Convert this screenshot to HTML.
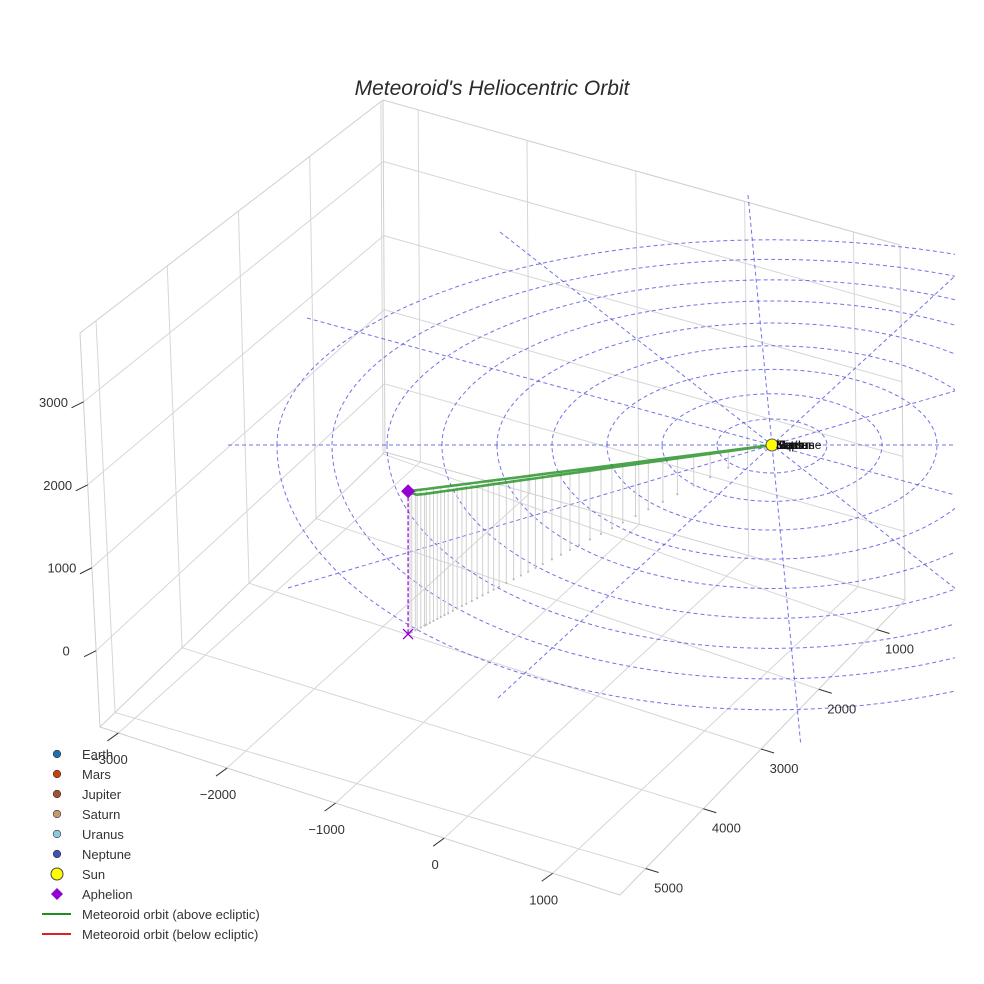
<!DOCTYPE html>
<html><head><meta charset="utf-8"><style>
html,body{margin:0;padding:0;background:#fff;}
svg{display:block;font-family:"Liberation Sans",sans-serif;}
</style></head><body>
<svg id="chart" width="984" height="984" viewBox="0 0 984 984">
<defs><clipPath id="sceneClip"><rect x="0" y="0" width="955" height="984"/></clipPath></defs>
<rect width="984" height="984" fill="#fff"/>
<text x="492" y="95" text-anchor="middle" font-size="21" font-style="italic" fill="#2a2a2a">Meteoroid's Heliocentric Orbit</text>
<g id="grid"></g>
<g id="ecliptic" clip-path="url(#sceneClip)"></g>
<g id="drops"></g>
<g id="orbit"></g>
<g id="markers"></g>
<g id="axes"></g>
<g id="legend"></g>
</svg>
<script>
// ---- data ----
const xTicks = [-3000, -2000, -1000, 0, 1000];
const yTicks = [1000, 2000, 3000, 4000, 5000];
const zTicks = [0, 1000, 2000, 3000];
const orbitX = [0, -27, -233, -356, -466, -562, -644, -727, -795, -864, -919, -973, -1028, -1069, -1111, -1152, -1186, -1220, -1248, -1275, -1302, -1323, -1344, -1357, -1371,
  -1364, -1337, -1309, -1289, -1261, -1234, -1202, -1168, -1131, -1090, -1049, -1001, -946, -891, -829, -761, -686, -603, -514, -411, -295, -165, -27, 0];
const orbitY = [0, 80, 681, 1042, 1362, 1643, 1883, 2124, 2324, 2524, 2685, 2845, 3005, 3125, 3246, 3366, 3466, 3566, 3646, 3727, 3807, 3867, 3927, 3967, 4007,
  3987, 3907, 3827, 3767, 3686, 3606, 3514, 3414, 3306, 3186, 3065, 2925, 2765, 2605, 2424, 2224, 2004, 1763, 1503, 1202, 862, 481, 80, 0];
const orbitZ = [0, 34, 292, 447, 585, 705, 808, 912, 998, 1084, 1152, 1221, 1290, 1342, 1393, 1445, 1488, 1531, 1565, 1600, 1634, 1660, 1686, 1703, 1720,
  1691, 1622, 1586, 1561, 1527, 1494, 1455, 1414, 1369, 1319, 1270, 1212, 1146, 1079, 1005, 922, 830, 731, 623, 498, 357, 199, 33, 0];
const aphelion = [-1371, 4007, 1720];
const sunPos = [0, 0, 0];
const planetNames = ["Earth", "Mars", "Jupiter", "Saturn", "Uranus", "Neptune"];
const planetColors = ["#1f6fb4", "#c9400e", "#a0522d", "#c49a6c", "#8ec9dc", "#3f51b5"];
const ringCount = 9;

// ---- projections ----
const NS = "http://www.w3.org/2000/svg";
const xminF = -3170, xrangeF = 4790, xminB = -3323, xrangeB = 4751;
const ymaxL = 5225, yrangeL = 4255, ymaxR = 5444, yrangeR = 4938;
const zmin = -920, zmax = 3830;
const C = {L:[100,727], F:[620,895], B:[385,452], R:[905,600], Lt:[80,333], Ft:[615,470], Bt:[383,100], Rt:[900,245]};
function lerp(a, b, t) { return [a[0] + (b[0] - a[0]) * t, a[1] + (b[1] - a[1]) * t]; }
function mix(a, b, t) { return a + (b - a) * t; }
function U(x, v) { return mix((x - xminF) / xrangeF, (x - xminB) / xrangeB, v); }
function V(y, u) { return mix((ymaxL - y) / yrangeL, (ymaxR - y) / yrangeR, u); }
function W(z) { return (z - zmin) / (zmax - zmin); }
function box(u, v, w) {
  const bot = lerp(lerp(C.L, C.F, u), lerp(C.B, C.R, u), v);
  const top = lerp(lerp(C.Lt, C.Ft, u), lerp(C.Bt, C.Rt, u), v);
  return lerp(bot, top, w);
}
const SX = 772, SY = 445;
function P(x, y, z) { return [SX + 0.112 * x - 0.0525 * y, SY + 0.036 * x + 0.0595 * y - 0.083 * z]; }

function mk(tag, attrs, parent) {
  const e = document.createElementNS(NS, tag);
  for (const k in attrs) e.setAttribute(k, attrs[k]);
  parent.appendChild(e);
  return e;
}
function line(p, q, stroke, w, parent, extra) {
  const e = mk("line", {x1:p[0], y1:p[1], x2:q[0], y2:q[1], stroke:stroke, "stroke-width":w}, parent);
  if (extra) for (const k in extra) e.setAttribute(k, extra[k]);
  return e;
}

// ---- scene grid ----
const grid = document.getElementById("grid");
const gc = "#d6d6d6";
xTicks.forEach(x => {
  let e = line(box(U(x, 0), 0, 0), box(U(x, 1), 1, 0), gc, 1, grid);
  
  
  e = line(box(U(x, 1), 1, 0), box(U(x, 1), 1, 1), gc, 1, grid);
  
  
});
yTicks.forEach(y => {
  let e = line(box(0, V(y, 0), 0), box(1, V(y, 1), 0), gc, 1, grid);
  
  
  e = line(box(0, V(y, 0), 0), box(0, V(y, 0), 1), gc, 1, grid);
  
  
});
zTicks.forEach(z => {
  let e = line(box(0, 0, W(z)), box(0, 1, W(z)), gc, 1, grid);
  
  
  e = line(box(0, 1, W(z)), box(1, 1, W(z)), gc, 1, grid);
  
  
});
[[C.L,C.F],[C.F,C.R],[C.L,C.B],[C.B,C.R],[C.L,C.Lt],[C.B,C.Bt],[C.R,C.Rt],[C.Lt,C.Bt],[C.Bt,C.Rt]].forEach(s => {
  const e = line(s[0], s[1], "#cfcfcf", 1, grid);
  
  
});

// ---- axis ticks/labels ----
const axes = document.getElementById("axes");
function label(p, txt, name) {
  const t = mk("text", {x:p[0], y:p[1], "text-anchor":"middle", "font-size":"13", fill:"#333"}, axes);
  t.textContent = txt;
  
  
}
const fmt = v => v < 0 ? "\u2212" + Math.abs(v) : String(v);
xTicks.forEach(x => {
  const p = box(U(x, 0), 0, 0);
  const e = line(p, [p[0] - 11, p[1] + 8], "#333", 1, axes);
  
  
  label([p[0] - 9, p[1] + 31], fmt(x), 'x-tick-label');
});
yTicks.forEach(y => {
  const p = box(1, V(y, 1), 0);
  const e = line(p, [p[0] + 13, p[1] + 4], "#333", 1, axes);
  
  
  label([p[0] + 23, p[1] + 24], fmt(y), 'y-tick-label');
});
zTicks.forEach(z => {
  const p = box(0, 0, W(z));
  const e = line(p, [p[0] - 12, p[1] + 6], "#333", 1, axes);
  
  
  label([p[0] - 30, p[1] + 5], fmt(z), 'z-tick-label');
});

// ---- ecliptic grid (rings & radials) ----
const ecl = document.getElementById("ecliptic");
const S = P(sunPos[0], sunPos[1], sunPos[2]);
const dash = {"stroke-dasharray":"4,3", fill:"none", opacity:"0.75"};
for (let k = 1; k <= ringCount; k++) {
  const rx = 55 * k, rt = k * (26.4 - 0.4 * k), rb = k * (27.8 + 0.18 * k);
  const d = `M${S[0]-rx},${S[1]} A${rx},${rt} 0 0 1 ${S[0]+rx},${S[1]} A${rx},${rb} 0 0 1 ${S[0]-rx},${S[1]}`;
  const e = mk("path", {d:d, stroke:"#4444dd", "stroke-width":1}, ecl);
  for (const a in dash) e.setAttribute(a, dash[a]);
  
  
}
[[-544,0],[-24,-250],[-272,-213],[-465,-127],[-484,143],[-274,253]].forEach(dv => {
  const f = (dv[1] < -200 && dv[0] > -100) ? 1.2 : 2;
  const e = line([S[0]+dv[0], S[1]+dv[1]], [S[0]-dv[0]*f, S[1]-dv[1]*f], "#4444dd", 1, ecl, dash);
  
  
});

// ---- drop lines ----
const drops = document.getElementById("drops");
for (let i = 2; i < orbitX.length - 1; i++) {
  if (i === 24) continue;
  const top = P(orbitX[i], orbitY[i], orbitZ[i]);
  const bot = P(orbitX[i], orbitY[i], 0);
  const e = line(top, bot, "#d0d0d0", 1, drops);
  
  
  const c = mk("circle", {cx:bot[0], cy:bot[1], r:1.1, fill:"#bbb"}, drops);
  
  
}

// ---- orbit ----
const orbit = document.getElementById("orbit");
const pts = orbitX.map((x, i) => P(x, orbitY[i], orbitZ[i]).join(",")).join(" ");
const ol = mk("polyline", {points:pts, fill:"none", stroke:"#1f8f1f", "stroke-width":2.6, opacity:"0.8", "stroke-linejoin":"round"}, orbit);



// ---- markers ----
const mkG = document.getElementById("markers");
const A = P(aphelion[0], aphelion[1], aphelion[2]);
const A0 = P(aphelion[0], aphelion[1], 0);
const al = line(A, A0, "#9400d3", 1.2, mkG, {"stroke-dasharray":"4,2"});


const ax = mk("path", {d:`M${A0[0]-5},${A0[1]-5}L${A0[0]+5},${A0[1]+5}M${A0[0]+5},${A0[1]-5}L${A0[0]-5},${A0[1]+5}`, stroke:"#9400d3", "stroke-width":1.3}, mkG);


const ad = mk("path", {d:`M${A[0]},${A[1]-7}L${A[0]+7},${A[1]}L${A[0]},${A[1]+7}L${A[0]-7},${A[1]}Z`, fill:"#9400d3"}, mkG);


const sun = mk("circle", {cx:S[0], cy:S[1], r:6, fill:"#ffff00", stroke:"#555", "stroke-width":1}, mkG);


planetNames.forEach((n, i) => {
  const t = mk("text", {x:S[0] + 4, y:S[1] + 4, "font-size":"12", fill:"#111"}, mkG);
  t.textContent = n;
  
  
});

// ---- legend ----
const lg = document.getElementById("legend");
const entries = [["Earth","dot",planetColors[0]],["Mars","dot",planetColors[1]],["Jupiter","dot",planetColors[2]],
  ["Saturn","dot",planetColors[3]],["Uranus","dot",planetColors[4]],["Neptune","dot",planetColors[5]],
  ["Sun","sun","#ffff00"],["Aphelion","diamond","#9400d3"],
  ["Meteoroid orbit (above ecliptic)","line","#1f8f1f"],["Meteoroid orbit (below ecliptic)","line","#e02020"]];
entries.forEach((en, i) => {
  const y = 754 + i * 20;
  const g = mk("g", {}, lg);
  
  
  if (en[1] === "dot") mk("circle", {cx:57, cy:y, r:3.8, fill:en[2], stroke:"#333", "stroke-width":0.6}, g);
  else if (en[1] === "sun") mk("circle", {cx:57, cy:y, r:6, fill:en[2], stroke:"#444", "stroke-width":1}, g);
  else if (en[1] === "diamond") mk("path", {d:`M57,${y-6}L63,${y}L57,${y+6}L51,${y}Z`, fill:en[2]}, g);
  else mk("line", {x1:42, y1:y, x2:71, y2:y, stroke:en[2], "stroke-width":2}, g);
  const t = mk("text", {x:82, y:y + 5, "font-size":"13", fill:"#333"}, g);
  t.textContent = en[0];
});
</script>
</body></html>
